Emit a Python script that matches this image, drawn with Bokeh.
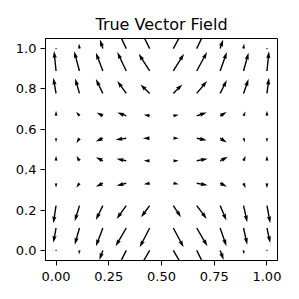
import math
from bokeh.plotting import figure
from bokeh.models import FixedTicker, PrintfTickFormatter, Range1d
from bokeh.embed import file_html
from bokeh.resources import INLINE

TITLE = "True Vector Field"

# grid positions (x across columns, y up the rows)
X_GRID = [0.0, 0.111, 0.222, 0.333, 0.444, 0.556, 0.667, 0.778, 0.889, 1.0]
Y_GRID = [0.0, 0.111, 0.222, 0.333, 0.444, 0.556, 0.667, 0.778, 0.889, 1.0]

# vector components, one list per row (bottom row y=0 first), v positive = up
U_ROWS = [
    [0.0, -0.5, -3.5, -9.0, -10.5, 10.5, 9.0, 3.5, 0.5, 0.0],
    [-2.7, -4.7, -7.0, -10.7, -10.0, 10.3, 10.7, 6.3, 3.7, 3.3],
    [-2.7, -4.7, -7.0, -9.7, -8.7, 7.7, 10.0, 6.3, 3.7, 3.3],
    [0.0, -3.0, -7.0, -9.7, -6.0, 5.5, 11.0, 6.7, 2.0, 0.0],
    [0.0, -3.0, -7.0, -9.7, -6.0, 5.5, 11.0, 7.7, 2.0, 0.0],
    [0.0, -3.0, -7.0, -10.7, -6.7, 5.5, 10.0, 6.7, 1.5, 0.0],
    [0.0, -3.3, -6.3, -9.0, -6.0, 5.5, 10.0, 6.7, 2.0, 0.0],
    [-2.7, -4.3, -7.0, -9.0, -9.3, 9.0, 10.3, 6.7, 5.0, 2.0],
    [-2.0, -5.3, -7.0, -9.0, -11.0, 10.7, 10.3, 6.7, 5.0, 2.0],
    [0.0, -0.5, -3.0, -8.5, -9.5, 10.0, 8.5, 3.0, 0.5, 0.0],
]
V_ROWS = [
    [-0.3, -4.0, -9.5, -18.0, -18.0, -18.0, -18.0, -9.5, -4.0, -0.3],
    [-14.7, -16.7, -18.3, -18.3, -19.3, -19.3, -18.3, -18.3, -16.7, -15.0],
    [-17.7, -15.7, -14.3, -13.3, -11.7, -11.7, -13.3, -15.0, -16.7, -17.7],
    [-4.5, -4.5, -3.5, -2.5, -1.0, -1.0, -2.0, -3.5, -5.0, -5.0],
    [5.0, 5.0, 3.5, 2.0, 0.0, 0.0, 2.0, 4.0, 5.0, 5.0],
    [-4.0, -5.0, -3.3, -1.5, 0.0, 0.0, -2.0, -4.3, -4.0, -4.0],
    [5.0, 4.0, 3.3, 3.3, 1.0, 1.0, 3.3, 3.7, 4.3, 5.0],
    [15.6, 15.0, 14.3, 12.3, 9.0, 9.0, 12.3, 13.3, 14.3, 15.6],
    [20.0, 19.7, 18.3, 19.0, 17.3, 17.3, 19.0, 19.0, 18.3, 19.7],
    [0.3, 5.0, 9.0, 18.0, 19.0, 18.5, 18.0, 9.0, 5.0, 0.3],
]

X_TICKS = [0.0, 0.25, 0.5, 0.75, 1.0]
Y_TICKS = [0.0, 0.2, 0.4, 0.6, 0.8, 1.0]

FRAME_W, FRAME_H = 232, 222
X0, X1 = -0.05, 1.05
Y0, Y1 = -0.05, 1.05
PX_X = FRAME_W / (X1 - X0)
PX_Y = FRAME_H / (Y1 - Y0)
SHAFT = 1.4  # shaft width in screen px


def arrow_shape(x, y, u, v):
    L = math.hypot(u, v)
    if L < SHAFT:
        r = SHAFT / 2
        pts = [(r * math.cos(k * math.pi / 3), r * math.sin(k * math.pi / 3)) for k in range(6)]
        return ([x + a / PX_X for a, b in pts], [y + b / PX_Y for a, b in pts])
    dx, dy = u / L, v / L
    nx, ny = -dy, dx
    s = 1.0
    Lr = L
    if L < 5 * SHAFT:
        Lr = 5 * SHAFT
        s = L / Lr
    w = SHAFT
    pts = [(0, -w / 2), (Lr - 4.5 * w, -w / 2), (Lr - 5 * w, -1.5 * w), (Lr, 0),
           (Lr - 5 * w, 1.5 * w), (Lr - 4.5 * w, w / 2), (0, w / 2)]
    xs = [x + s * (a * dx + b * nx) / PX_X for a, b in pts]
    ys = [y + s * (a * dy + b * ny) / PX_Y for a, b in pts]
    return xs, ys


patch_xs, patch_ys = [], []
for j, yv in enumerate(Y_GRID):
    for i, xv in enumerate(X_GRID):
        ax, ay = arrow_shape(xv, yv, U_ROWS[j][i], V_ROWS[j][i])
        patch_xs.append(ax)
        patch_ys.append(ay)

p = figure(frame_width=FRAME_W, frame_height=FRAME_H,
           output_backend="svg", toolbar_location=None,
           x_range=Range1d(X0, X1), y_range=Range1d(Y0, Y1),
           min_border=5, margin=(7, 0, 0, 12))
p.title.text = TITLE
p.title.align = "center"
p.title.text_font = "DejaVu Sans"
p.title.text_font_size = "16px"
p.title.text_font_style = "normal"
p.title.text_color = "black"

p.patches(patch_xs, patch_ys, fill_color="black", line_color=None)

p.xgrid.visible = False
p.ygrid.visible = False
p.outline_line_color = "black"
p.outline_line_width = 1
p.outline_line_alpha = 1
p.background_fill_color = "white"
p.border_fill_color = "white"

p.xaxis.ticker = FixedTicker(ticks=X_TICKS)
p.yaxis.ticker = FixedTicker(ticks=Y_TICKS)
p.xaxis.formatter = PrintfTickFormatter(format="%.2f")
p.yaxis.formatter = PrintfTickFormatter(format="%.1f")
for ax in (p.xaxis, p.yaxis):
    ax.major_label_text_font = "DejaVu Sans"
    ax.major_label_text_font_size = "13px"
    ax.major_label_text_color = "black"
    ax.axis_line_color = "black"
    ax.major_tick_line_color = "black"
    ax.major_tick_out = 5
    ax.major_tick_in = 0
    ax.minor_tick_line_color = None
    ax.major_label_standoff = 4
p.xaxis.major_label_standoff = 6

open("out.html", "w").write(file_html(p, INLINE))
